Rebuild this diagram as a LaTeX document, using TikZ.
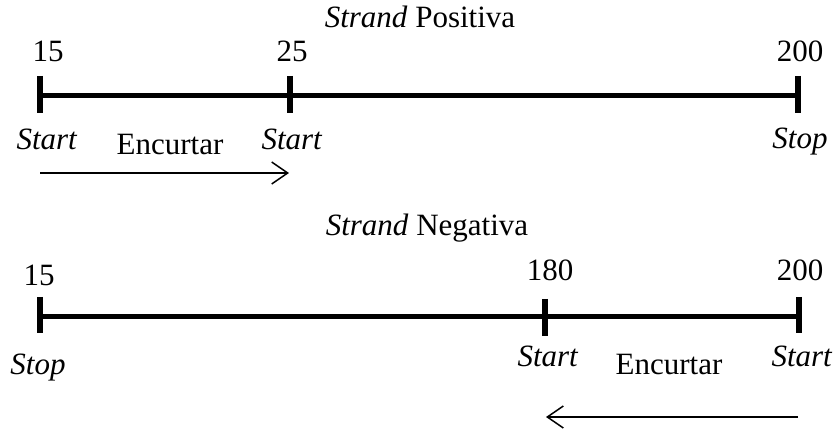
\documentclass[tikz,border=0pt]{standalone}
\usepackage{fontspec}
\setmainfont{Liberation Serif}
\usetikzlibrary{arrows.meta}
\tikzset{
  lbl/.style={anchor=base, inner sep=0pt, font=\fontsize{31}{37}\selectfont},
  strandline/.style={line width=5pt},
  tick/.style={line width=6pt},
  dirarrow/.style={line width=1.5pt, -{Straight Barb[length=16pt,width=22pt,line width=1.5pt]}}
}
\begin{document}
\begin{tikzpicture}[x=1pt,y=-1pt]
\useasboundingbox (0,0) rectangle (836,430);

% ---- positive strand ----
\node[lbl] (ptitle) at (420,28) {\textit{Strand} Positiva};
\node[lbl] (pn15)  at (48,62)  {15};
\node[lbl] (pn25)  at (292,62) {25};
\node[lbl] (pn200) at (800,62) {200};

\coordinate (pa) at (40,96);
\coordinate (pb) at (290,96);
\coordinate (pc) at (798,96);
\coordinate (pat) at (40,76);  \coordinate (pab) at (40,113);
\coordinate (pbt) at (290,76); \coordinate (pbb) at (290,113);
\coordinate (pct) at (798,76); \coordinate (pcb) at (798,113);

\draw[strandline] (pa) -- (pc);
\draw[tick] (pat) -- (pab);
\draw[tick] (pbt) -- (pbb);
\draw[tick] (pct) -- (pcb);

\node[lbl] (pstart1) at (47,150)  {\textit{Start}};
\node[lbl] (penc)    at (170,155) {Encurtar};
\node[lbl] (pstart2) at (292,150) {\textit{Start}};
\node[lbl] (pstop)   at (800,149) {\textit{Stop}};

\coordinate (parr1) at (40,173);
\coordinate (parr2) at (289,173);
\draw[dirarrow] (parr1) -- (parr2);

% ---- negative strand ----
\node[lbl] (ntitle) at (427,236) {\textit{Strand} Negativa};
\node[lbl] (nn15)  at (39,286)  {15};
\node[lbl] (nn180) at (550,281) {180};
\node[lbl] (nn200) at (800,281) {200};

\coordinate (na) at (40,317);
\coordinate (nb) at (545,317);
\coordinate (nc) at (799,317);
\coordinate (nat) at (40,297);  \coordinate (nab) at (40,333);
\coordinate (nbt) at (545,299); \coordinate (nbb) at (545,336);
\coordinate (nct) at (799,297); \coordinate (ncb) at (799,333);

\draw[strandline] (na) -- (nc);
\draw[tick] (nat) -- (nab);
\draw[tick] (nbt) -- (nbb);
\draw[tick] (nct) -- (ncb);

\node[lbl] (nstop)   at (38,375)  {\textit{Stop}};
\node[lbl] (nstart1) at (548,367) {\textit{Start}};
\node[lbl] (nenc)    at (669,375) {Encurtar};
\node[lbl] (nstart2) at (802,367) {\textit{Start}};

\coordinate (narr1) at (798,417);
\coordinate (narr2) at (546,417);
\draw[dirarrow] (narr1) -- (narr2);
\end{tikzpicture}
\end{document}
